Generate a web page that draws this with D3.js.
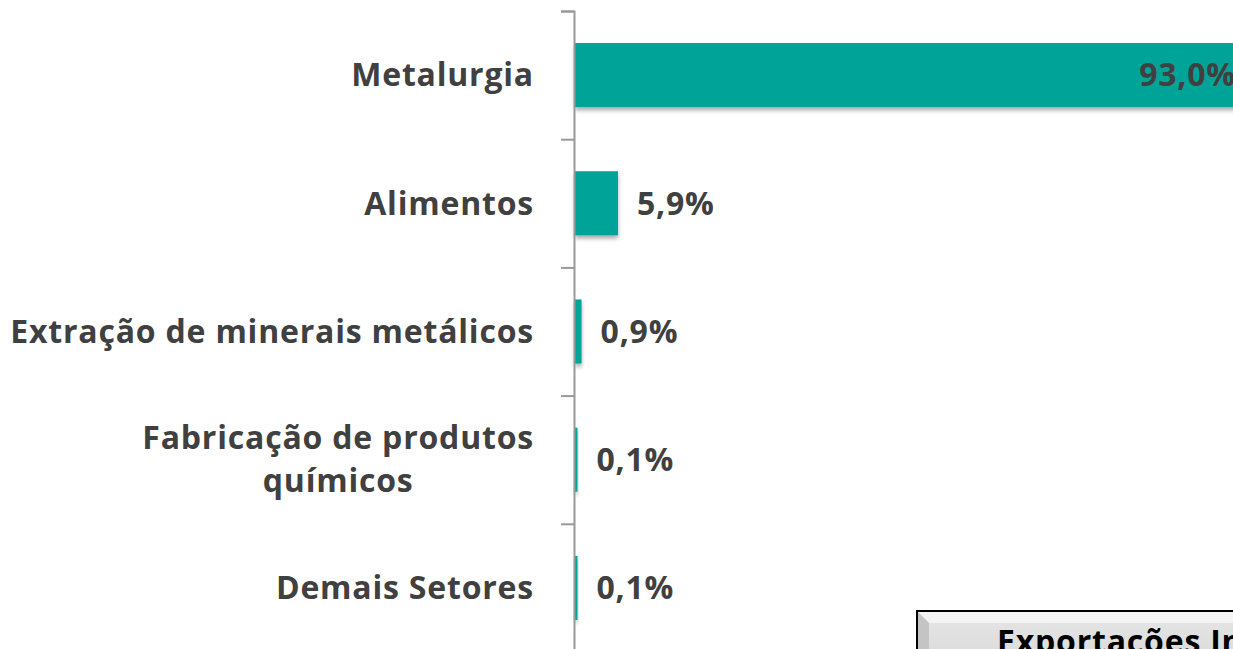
<!DOCTYPE html>
<html><head><meta charset="utf-8">
<script src="https://cdn.jsdelivr.net/npm/d3@7"></script>
<style>html,body{margin:0;padding:0;background:#fff;overflow:hidden}</style>
</head><body>
<svg id="c" width="1233" height="649"></svg>
<script>
const categories = [["Metalurgia"],["Alimentos"],["Extração de minerais metálicos"],["Fabricação de produtos","químicos"],["Demais Setores"]];
const values = [93.0, 5.9, 0.9, 0.1, 0.1];
const valueLabels = ["93,0%","5,9%","0,9%","0,1%","0,1%"];
const boxTitle = "Exportações Industriais";

const svg = d3.select("#c");
const FONT = "'Open Sans', Lato, sans-serif";
const FS = 32;
const LS = 0.8;
const TXT = "#404040";
const TEAL = "#00A398";

const defs = svg.append("defs");
const f = defs.append("filter").attr("id","sh").attr("x","-50%").attr("y","-20%").attr("width","200%").attr("height","160%");
f.append("feDropShadow").attr("dx",0).attr("dy",3).attr("stdDeviation",2).attr("flood-color","#000").attr("flood-opacity",0.35);
const g2 = defs.append("linearGradient").attr("id","bx").attr("x1",0).attr("y1",0).attr("x2",0).attr("y2",1);
g2.append("stop").attr("offset","0%").attr("stop-color","#e6e6e6");
g2.append("stop").attr("offset","100%").attr("stop-color","#d4d4d4");

const ids = categories.map((d,i)=>i);
const y = d3.scaleBand().domain(ids).range([11, 11 + 128.2*5]).paddingInner(0.5).paddingOuter(0.25);
const x = d3.scaleLinear().domain([0, 100]).range([575, 575 + 729]);

// bars (minimum visible width as in the original rendering)
svg.append("g").selectAll("rect").data(values).join("rect")
  .attr("x", x(0)).attr("y",(d,i)=>y(i)).attr("width",d=>Math.max(2.5, x(d)-x(0))).attr("height",y.bandwidth())
  .attr("fill",TEAL).attr("filter","url(#sh)");

// axis
const yAxis = d3.axisLeft(d3.scaleLinear().domain([0,5]).range([11, 11+128.2*5])).tickValues([0,1,2,3,4,5]).tickFormat("").tickSizeOuter(0).tickSize(13);
const ax = svg.append("g").attr("transform","translate(574,0)").call(yAxis);
ax.selectAll("path,line").attr("stroke","#999").attr("stroke-width",2);

// category labels
const cl = svg.append("g");
categories.forEach((lines,i)=>{
  const cy = y(i) + y.bandwidth()/2;
  const lh = 43;
  const t = cl.append("text").attr("text-anchor","end").attr("font-family",FONT).attr("font-weight","bold")
    .attr("font-size",FS).attr("letter-spacing",LS).attr("fill",TXT);
  lines.forEach((ln,j)=>{
    t.append("tspan").attr("x", 534)
      .attr("y", cy + (j - (lines.length-1)/2)*lh).attr("dy","0.35em").text(ln);
  });
  if(lines.length>1){
    const tsp = t.selectAll("tspan").nodes();
    const w0 = tsp[0].getComputedTextLength();
    const w1 = tsp[1].getComputedTextLength();
    d3.select(tsp[1]).attr("x", 534 - (w0 - w1)/2);
  }
});

// value labels
svg.append("g").selectAll("text").data(values).join("text")
  .attr("x",(d,i)=> i===0 ? x(d) - 17 : Math.max(x(0)+2.5, x(d)) + 19)
  .attr("y",(d,i)=>y(i)+y.bandwidth()/2).attr("dy","0.35em")
  .attr("text-anchor",(d,i)=> i===0 ? "end" : "start")
  .attr("font-family",FONT).attr("font-weight","bold").attr("font-size",FS).attr("letter-spacing",LS).attr("fill",TXT)
  .text((d,i)=>valueLabels[i]);

// bottom box
const bx = svg.append("g");
const bx0 = 917, by0 = 611, bw = 420, bh = 80;
bx.append("rect").attr("x",bx0).attr("y",by0).attr("width",bw).attr("height",bh).attr("fill","url(#bx)");
bx.append("polygon").attr("points",`${bx0},${by0} ${bx0+bw},${by0} ${bx0+bw-12},${by0+12} ${bx0+12},${by0+12}`).attr("fill","#f4f4f4");
bx.append("polygon").attr("points",`${bx0},${by0} ${bx0+12},${by0+12} ${bx0+12},${by0+bh} ${bx0},${by0+bh}`).attr("fill","#c4c4c4");
bx.append("rect").attr("x",bx0).attr("y",by0).attr("width",bw).attr("height",bh).attr("fill","none").attr("stroke","#000").attr("stroke-width",2);
bx.append("text").attr("x",997).attr("y",653).attr("font-family",FONT).attr("font-weight","bold").attr("font-size",FS).attr("letter-spacing",LS).attr("fill","#000").text(boxTitle);
</script>
</body></html>
